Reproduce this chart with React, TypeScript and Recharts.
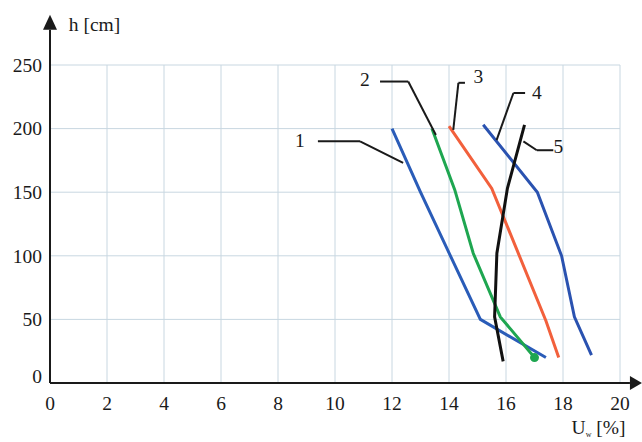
import {
  CartesianGrid, Line, LineChart, ReferenceDot, ReferenceLine, XAxis, YAxis,
} from 'recharts';

const FONT = 'Liberation Serif, DejaVu Serif, Times New Roman, serif';
const INK = '#1a1a1a';

// moisture content U_w [%] against height h [cm]
const H1 = [200, 150, 100, 50, 20];
const U1 = [12.0, 13.0, 14.05, 15.1, 17.4];
const H2 = [200, 152, 102, 52, 20];
const U2 = [13.4, 14.2, 14.85, 15.8, 17.0];
const H3 = [202, 153, 49, 20];
const U3 = [14.0, 15.5, 17.4, 17.85];
const H4 = [203, 150, 100, 52, 22];
const U4 = [15.2, 17.1, 17.95, 18.4, 19.0];
const H5 = [203, 153, 102, 52, 17];
const U5 = [16.65, 16.05, 15.68, 15.6, 15.9];

const X_TICKS = [0, 2, 4, 6, 8, 10, 12, 14, 16, 18, 20];
const Y_TICKS = [0, 50, 100, 150, 200, 250];

// leader lines from number labels to curves
const LEADERS = [
  { n: '1', at: [8.77, 191], pts: [[9.4, 190], [10.88, 190], [12.39, 173]] },
  { n: '2', at: [11.05, 239], pts: [[11.58, 237], [12.57, 237], [13.54, 195]] },
  { n: '3', at: [15.03, 241], pts: [[14.56, 236], [14.33, 236], [14.15, 199]] },
  { n: '4', at: [17.08, 229], pts: [[16.67, 228], [16.26, 228], [15.67, 191]] },
  { n: '5', at: [17.84, 186], pts: [[16.61, 190], [17.08, 183], [17.66, 183]] },
];

const SERIES = [
  { key: 's1', u: U1, h: H1, color: '#2a5cb8' },
  { key: 's2', u: U2, h: H2, color: '#1ea650' },
  { key: 's3', u: U3, h: H3, color: '#f2603c' },
  { key: 's4', u: U4, h: H4, color: '#2a52b0' },
  { key: 's5', u: U5, h: H5, color: '#111111' },
];

function pts(u: number[], h: number[]) {
  return u.map((x, i) => ({ x, y: h[i] }));
}

const txt = { fontFamily: FONT, fontSize: 19.5, fill: INK };

function Arrow(props: any) {
  const { x1, y1, x2, y2, len, half } = props;
  const dx = x2 - x1, dy = y2 - y1;
  const d = Math.hypot(dx, dy) || 1;
  const ux = dx / d, uy = dy / d;
  const bx = x2 - ux * len, by = y2 - uy * len;
  const p = `${x2},${y2} ${bx - uy * half},${by + ux * half} ${bx + uy * half},${by - ux * half}`;
  return (
    <g>
      <line x1={x1} y1={y1} x2={bx} y2={by} stroke={INK} strokeWidth={2} />
      <polygon points={p} fill={INK} />
    </g>
  );
}

function TextAt(props: any) {
  const { cx, cy, text, anchor } = props;
  return (
    <text x={cx} y={cy} dy="0.35em" textAnchor={anchor || 'middle'} style={txt}>
      {text}
    </text>
  );
}

function YTick(props: any) {
  const { x, y, payload } = props;
  return (
    <text x={x} y={payload.value === 0 ? y - 7 : y} dy="0.35em" textAnchor="end" style={txt}>
      {payload.value}
    </text>
  );
}

function XTick(props: any) {
  const { x, y, payload } = props;
  return (
    <text x={x} y={y} dy="0.71em" textAnchor="middle" style={txt}>
      {payload.value}
    </text>
  );
}

export default function App() {
  return (
    <div style={{ position: 'absolute', left: 0, top: 0, width: 642, height: 442, background: '#fff', fontFamily: FONT }}>
      <LineChart width={642} height={442} margin={{ top: 65, right: 22, bottom: 19, left: 0 }}>
        <CartesianGrid stroke="#c8d7e1" strokeWidth={1} />
        <XAxis
          type="number" dataKey="x" domain={[0, 20]} ticks={X_TICKS} interval={0}
          axisLine={false} tickLine={false} tickSize={0} tickMargin={13} height={40}
          tick={<XTick />}
        />
        <YAxis
          type="number" dataKey="y" domain={[0, 250]} ticks={Y_TICKS} interval={0}
          axisLine={false} tickLine={false} tickSize={0} tickMargin={8} width={50}
          tick={<YTick />}
        />

        {/* axes with arrowheads */}
        <ReferenceLine
          segment={[{ x: 0, y: 0 }, { x: 20.77, y: 0 }]} ifOverflow="visible"
          shape={(p: any) => <Arrow {...p} len={12} half={7} />}
        />
        <ReferenceLine
          segment={[{ x: 0, y: 0 }, { x: 0, y: 289.5 }]} ifOverflow="visible"
          shape={(p: any) => <Arrow {...p} len={15} half={7} />}
        />

        {SERIES.map((s) => (
          <Line
            key={s.key} data={pts(s.u, s.h)} dataKey="y" type="linear"
            stroke={s.color} strokeWidth={3} isAnimationActive={false}
            dot={s.key === 's2'
              ? (p: any) => (p.index === s.u.length - 1
                ? <circle key={p.index} cx={p.cx} cy={p.cy} r={4.5} fill={s.color} />
                : <g key={p.index} />)
              : false}
            activeDot={false}
          />
        ))}

        {LEADERS.map((l) => l.pts.slice(1).map((q, i) => (
          <ReferenceLine
            key={`${l.n}-${i}`}
            segment={[{ x: l.pts[i][0], y: l.pts[i][1] }, { x: q[0], y: q[1] }]}
            ifOverflow="visible" stroke={INK} strokeWidth={2}
          />
        )))}
        {LEADERS.map((l) => (
          <ReferenceDot
            key={`lbl-${l.n}`} x={l.at[0]} y={l.at[1]} r={0} ifOverflow="visible"
            shape={(p: any) => <TextAt {...p} text={l.n} />}
          />
        ))}

        <ReferenceDot
          x={0.66} y={282} r={0} ifOverflow="visible"
          shape={(p: any) => <TextAt {...p} anchor="start" text="h [cm]" />}
        />
        <ReferenceDot
          x={18.3} y={-35} r={0} ifOverflow="visible"
          shape={(p: any) => (
            <text x={p.cx} y={p.cy} dy="0.35em" style={txt}>
              U<tspan fontSize={8} dy={3}>w</tspan><tspan dy={-3}> [%]</tspan>
            </text>
          )}
        />
      </LineChart>
    </div>
  );
}
